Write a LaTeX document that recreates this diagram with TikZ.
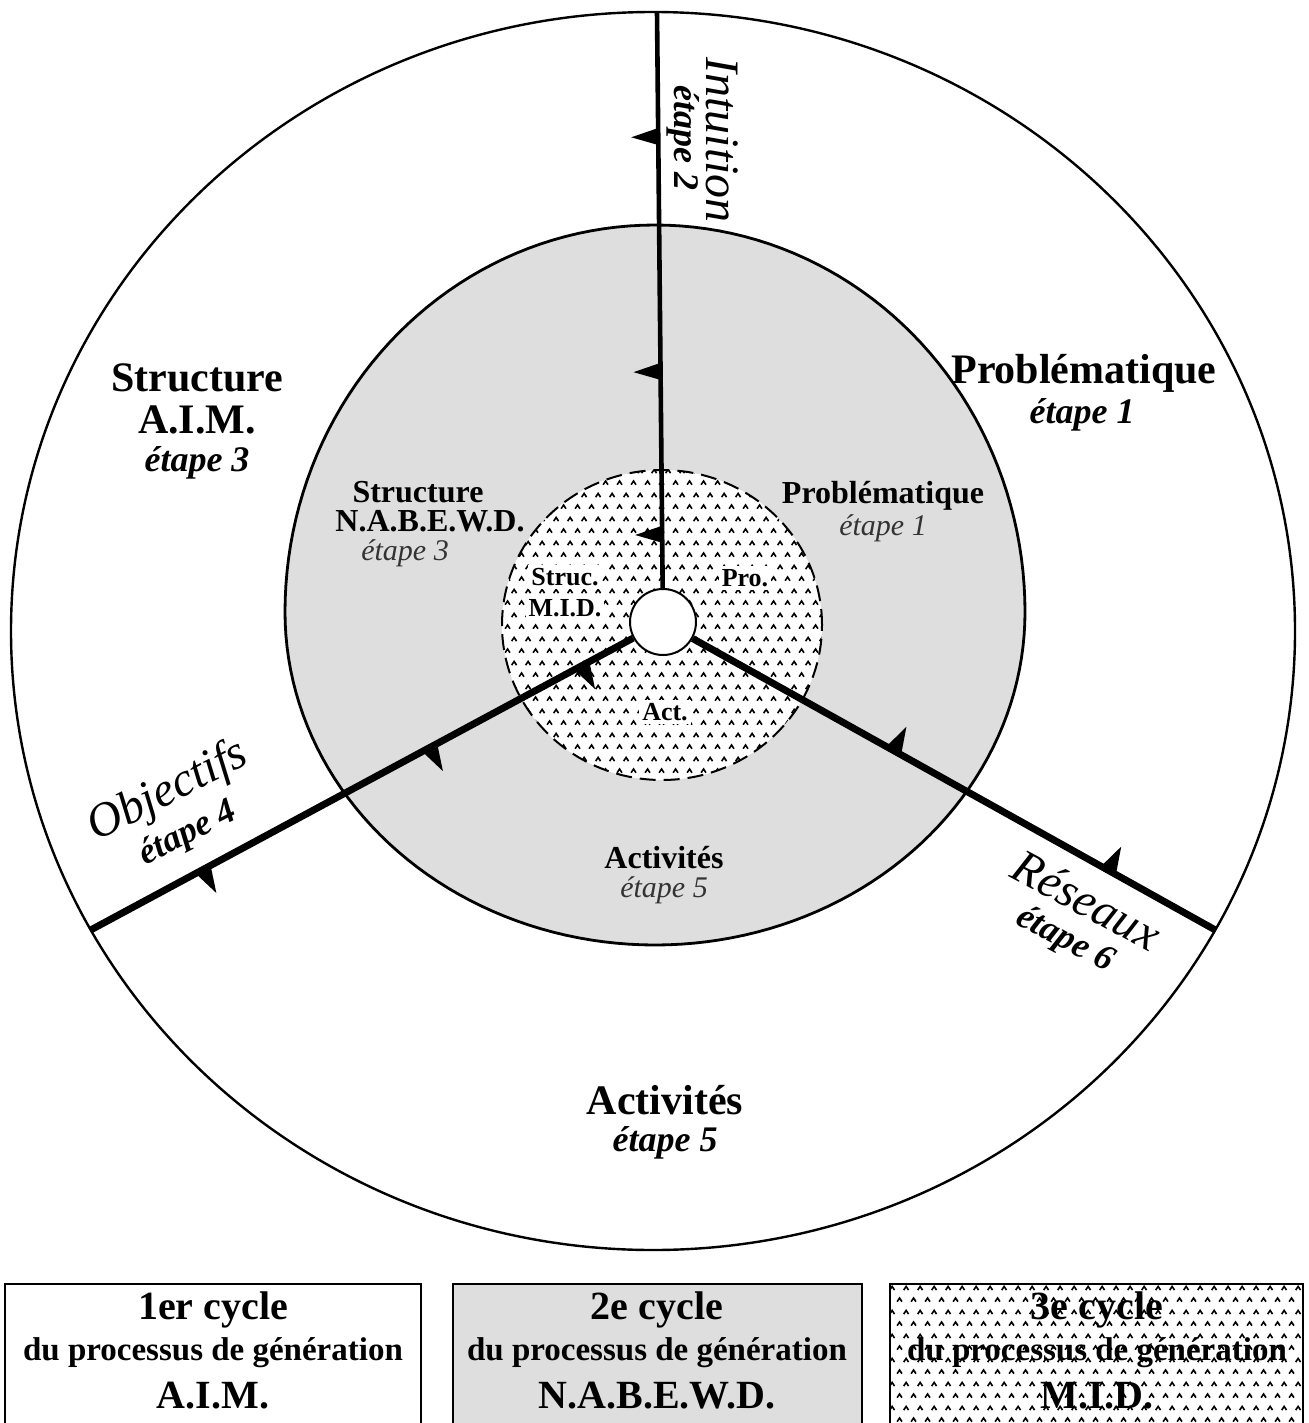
\documentclass[tikz,border=0pt]{standalone}
\usepackage{fontspec}
\setmainfont{Liberation Serif}
\usetikzlibrary{shapes.geometric,calc,patterns}
\pgfdeclarelayer{bg}
\pgfsetlayers{bg,main}
\pgfdeclarepatternformonly{carets}{\pgfpointorigin}{\pgfpoint{7pt}{12pt}}{\pgfpoint{7pt}{12pt}}{%
  \pgfsetlinewidth{0.85pt}%
  \pgfpathmoveto{\pgfpoint{0.6pt}{1.2pt}}\pgfpathlineto{\pgfpoint{1.9pt}{3.1pt}}\pgfpathlineto{\pgfpoint{3.2pt}{1.2pt}}%
  \pgfpathmoveto{\pgfpoint{4.1pt}{7.2pt}}\pgfpathlineto{\pgfpoint{5.4pt}{9.1pt}}\pgfpathlineto{\pgfpoint{6.7pt}{7.2pt}}%
  \pgfusepath{stroke}%
}
\newcommand\flowbarb[3]{%
  \path ($(#1)!#3!(#2)$) coordinate (bP);
  \fill ($(bP)!4.5pt!(#2)$) -- ($(bP)!13.5pt!90:(#2)$) -- ($(bP)!-4pt!(#2)$) -- cycle;
}
\begin{document}
\begin{tikzpicture}[x=0.5pt,y=-0.5pt,
  ring/.style={ellipse, inner sep=0pt, outer sep=0pt},
  obig/.style={font=\fontsize{21}{24}\selectfont\bfseries, inner sep=0pt},
  oet/.style={font=\fontsize{18}{20}\selectfont\bfseries\itshape, inner sep=0pt},
  swash/.style={font=\fontsize{24}{26}\selectfont\itshape, inner sep=0pt},
  mbig/.style={font=\fontsize{16}{18}\selectfont\bfseries, inner sep=0pt},
  met/.style={font=\fontsize{15}{17}\selectfont\itshape, text=black!80, inner sep=0pt},
  ibig/.style={font=\fontsize{13}{15}\selectfont\bfseries, fill=white, inner sep=1.5pt},
  lhead/.style={font=\fontsize{20}{22}\selectfont\bfseries, inner sep=0pt},
  lsub/.style={font=\fontsize{16.5}{18}\selectfont\bfseries, inner sep=0pt},
  legbox/.style={rectangle, draw, line width=1.3pt, inner sep=0pt, minimum height=78pt},
  spoke/.style={line cap=butt}
]
\useasboundingbox (0,0) rectangle (1308,1423);
\begin{pgfonlayer}{bg}
  \fill[white] (0,0) rectangle (1308,1423);
  \node[ring, draw, line width=1.2pt, minimum width=642pt, minimum height=619pt] (outer) at (653,631) {};
  % middle ring: slightly egg-shaped (upper half a little taller)
  \draw[fill=black!13, line width=1.4pt]
    plot[domain=0:360, samples=181, variable=\t]
      ({655+370*cos(\t)}, {612+((\t>180) ? 387 : 333)*sin(\t)}) -- cycle;
  \node[ring, preaction={fill=white}, pattern=carets, draw, dash pattern=on 8pt off 4pt, line width=1pt,
        minimum width=160pt, minimum height=155pt] (inner) at (662,625) {};
  % legend boxes
  \node[legbox, minimum width=208pt] (box1) at (213,1362) {};
  \node[legbox, fill=black!13, minimum width=204.5pt] (box2) at (657.5,1362) {};
  \node[legbox, preaction={fill=white}, pattern=carets, minimum width=206.5pt] (box3) at (1096.5,1362) {};
\end{pgfonlayer}

% hub and spokes
\node[circle, draw, fill=white, line width=1pt, minimum size=33pt, inner sep=0pt] (hub) at (663,622) {};
\coordinate (ptop) at (657,12);
\coordinate (pleft) at (outer.208.2);
\coordinate (pright) at (outer.332.2);
\draw[spoke, line width=2.3pt] (hub) -- (ptop);
\draw[spoke, line width=3.5pt] (hub) -- (pleft);
\draw[spoke, line width=3.5pt] (hub) -- (pright);
\flowbarb{hub}{ptop}{0.143}
\flowbarb{hub}{ptop}{0.41}
\flowbarb{hub}{ptop}{0.795}
\flowbarb{hub}{pleft}{0.141}
\flowbarb{hub}{pleft}{0.407}
\flowbarb{hub}{pleft}{0.803}
\flowbarb{hub}{pright}{0.417}
\flowbarb{hub}{pright}{0.806}

% outer ring labels
\node[obig] (o3a) at (197,378) {Structure};
\node[obig] (o3b) at (197,420) {A.I.M.};
\node[oet] (o3c) at (197,463) {étape 3};
\node[obig] (o1a) at (1084,373) {Problématique};
\node[oet] (o1b) at (1082,415) {étape 1};
\node[obig] (o5a) at (665,1100) {Activités};
\node[oet] (o5b) at (665,1143) {étape 5};
\node[swash, rotate=-90] (o2a) at (722,140) {Intuition};
\node[oet, rotate=-90] (o2b) at (683,138) {étape 2};
\node[swash, rotate=27] (o4a) at (168,792) {Objectifs};
\node[oet, rotate=27] (o4b) at (188,834) {étape 4};
\node[swash, rotate=-28] (o6a) at (1087,900) {Réseaux};
\node[oet, rotate=-28] (o6b) at (1065,940) {étape 6};

% middle ring labels
\node[mbig] (m3a) at (418,492) {Structure};
\node[mbig] (m3b) at (430,521) {N.A.B.E.W.D.};
\node[met] (m3c) at (405,553) {étape 3};
\node[mbig] (m1a) at (883,496) {Problématique};
\node[met] (m1b) at (883,528) {étape 1};
\node[mbig] (m5a) at (664,858) {Activités};
\node[met] (m5b) at (664,890) {étape 5};

% inner labels
\node[ibig] (i3a) at (565,577) {Struc.};
\node[ibig] (i3b) at (565,608) {M.I.D.};
\node[ibig] (i1) at (745,578) {Pro.};
\node[ibig] (i5) at (665,712) {Act.};

% legend texts
\node[lhead] (l1a) at (213,1310) {1er cycle};
\node[lsub] (l1b) at (213,1353) {du processus de génération};
\node[lhead] (l1c) at (213,1396) {A.I.M.};
\node[lhead] (l2a) at (657,1310) {2e cycle};
\node[lsub] (l2b) at (657,1353) {du processus de génération};
\node[lhead] (l2c) at (657,1396) {N.A.B.E.W.D.};
\node[lhead] (l3a) at (1097,1310) {3e cycle};
\node[lsub] (l3b) at (1097,1353) {du processus de génération};
\node[lhead] (l3c) at (1097,1396) {M.I.D.};
\end{tikzpicture}
\end{document}
